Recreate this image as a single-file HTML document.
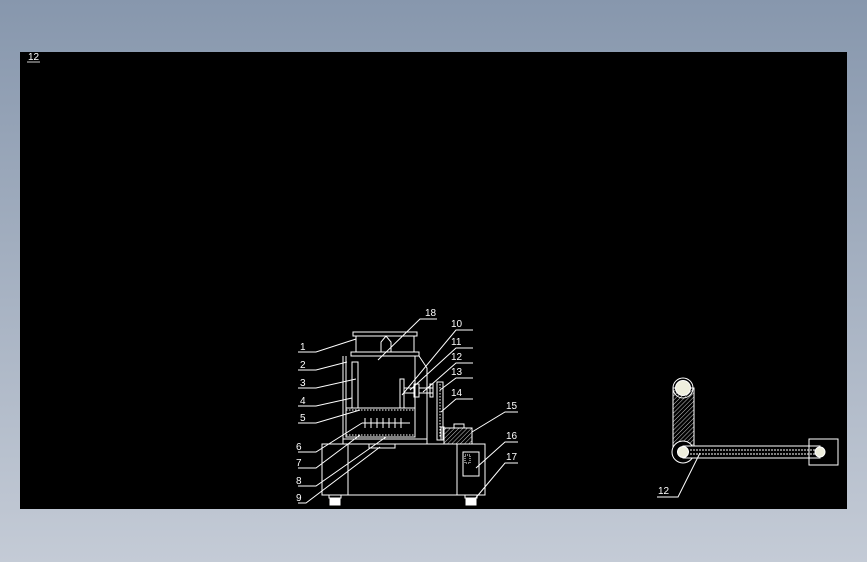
<!DOCTYPE html>
<html><head><style>
html,body{margin:0;padding:0}
body{width:867px;height:562px;background:linear-gradient(#8797ad,#c4cbd6);position:relative;overflow:hidden}
svg{position:absolute;left:0;top:0}
text{font-family:"Liberation Sans",sans-serif;fill:#fff;font-size:10px}
</style></head><body>
<svg width="867" height="562" viewBox="0 0 867 562">
<defs>
<pattern id="h" width="3" height="3" patternUnits="userSpaceOnUse" patternTransform="rotate(45)"><line x1="0" y1="0" x2="0" y2="3" stroke="#fff" stroke-width="0.8"/></pattern>
</defs>
<rect x="20" y="52" width="827" height="457" fill="#000"/>
<text x="28" y="60" font-size="9">12</text>
<line x1="27" y1="62" x2="40" y2="62" stroke="#fff" stroke-width="0.8"/>
<g stroke="#fff" stroke-width="1" fill="none">
<!-- hopper -->
<rect x="353" y="332" width="64" height="4"/>
<rect x="356" y="336" width="58" height="16"/>
<path d="M381 352 V342 L386 336 L391 342 V352"/>
<rect x="351" y="352" width="68" height="4"/>
<!-- main box -->
<path d="M343 356 V440 M346 356 V408 M415 356 V408 M419 356 L427 368 V440"/>
<rect x="343" y="439" width="84" height="5"/>
<rect x="346" y="408" width="69" height="29" />
<line x1="346" y1="410" x2="415" y2="410" stroke-dasharray="1.5,1.5"/>
<line x1="346" y1="435" x2="415" y2="435" stroke-dasharray="1.5,1.5"/>
<rect x="352" y="362" width="6" height="46"/>
<line x1="362" y1="423" x2="410" y2="423"/>
<path d="M365 418 v10 M371 418 v10 M377 418 v10 M383 418 v10 M389 418 v10 M395 418 v10 M401 418 v10"/>
<rect x="400" y="379" width="4" height="29"/>
<rect x="404" y="388" width="10" height="5"/>
<rect x="414" y="384" width="5" height="13"/>
<rect x="419" y="388" width="14" height="5"/>
<rect x="430" y="384" width="3" height="13"/>
<!-- belt -->
<rect x="437" y="382" width="6" height="58"/>
<line x1="440" y1="384" x2="440" y2="438" stroke-dasharray="1.5,1.5"/>
<rect x="441" y="427" width="3" height="13"/>
<!-- motor -->
<rect x="444" y="428" width="28" height="16" fill="url(#h)"/>
<rect x="454" y="424" width="10" height="4"/>
<!-- base -->
<rect x="322" y="444" width="163" height="51"/>
<line x1="348" y1="444" x2="348" y2="495"/>
<line x1="457" y1="444" x2="457" y2="495"/>
<rect x="369" y="444" width="26" height="4"/>
<rect x="463" y="452" width="16" height="24"/>
<rect x="465" y="455" width="5" height="8" stroke-dasharray="1,1"/>
<rect x="329" y="495" width="12" height="3"/><rect x="330" y="498" width="10" height="7" fill="#fff"/>
<rect x="465" y="495" width="12" height="3"/><rect x="466" y="498" width="10" height="7" fill="#fff"/>
<!-- left leaders -->
<path d="M298 352 H316 L356 339"/>
<path d="M298 370 H316 L347 362"/>
<path d="M298 388 H316 L356 379"/>
<path d="M298 406 H316 L352 398"/>
<path d="M298 423 H316 L360 410"/>
<path d="M298 452 H316 L362 423"/>
<path d="M298 468 H316 L360 435"/>
<path d="M298 486 H316 L386 437"/>
<path d="M298 503 H306 L380 447"/>
<!-- right leaders -->
<path d="M437 319 H420 L378 360"/>
<path d="M473 330 H456 L402 395"/>
<path d="M473 348 H456 L410 390"/>
<path d="M473 363 H456 L423 392"/>
<path d="M473 378 H456 L440 390"/>
<path d="M473 399 H456 L441 412"/>
<path d="M518 412 H505 L472 432"/>
<path d="M518 442 H505 L476 468"/>
<path d="M518 463 H505 L474 500"/>
<!-- right detail -->
<rect x="673" y="388" width="21" height="64" fill="url(#h)"/>
<circle cx="683" cy="388" r="10"/>
<circle cx="683" cy="388" r="7.5" fill="#eeeedd"/>
<circle cx="683" cy="452" r="11" fill="#000"/>
<rect x="683" y="446" width="137" height="12" fill="#000"/>
<line x1="690" y1="450" x2="815" y2="450" stroke-dasharray="2,1"/>
<line x1="690" y1="454" x2="815" y2="454" stroke-dasharray="2,1"/>
<circle cx="683" cy="452" r="5.5" fill="#eeeedd"/>
<rect x="809" y="439" width="29" height="26"/>
<circle cx="820" cy="452" r="5" fill="#eeeedd"/>
<path d="M657 497 H678 L700 453"/>
</g>
<g>
<text x="300" y="350">1</text><text x="300" y="368">2</text><text x="300" y="386">3</text><text x="300" y="404">4</text><text x="300" y="421">5</text><text x="296" y="450">6</text><text x="296" y="466">7</text><text x="296" y="484">8</text><text x="296" y="501">9</text>
<text x="425" y="316">18</text><text x="451" y="327">10</text><text x="451" y="345">11</text><text x="451" y="360">12</text><text x="451" y="375">13</text><text x="451" y="396">14</text><text x="506" y="409">15</text><text x="506" y="439">16</text><text x="506" y="460">17</text>
<text x="658" y="494" font-size="16">12</text>
</g>
</svg>
</body></html>
